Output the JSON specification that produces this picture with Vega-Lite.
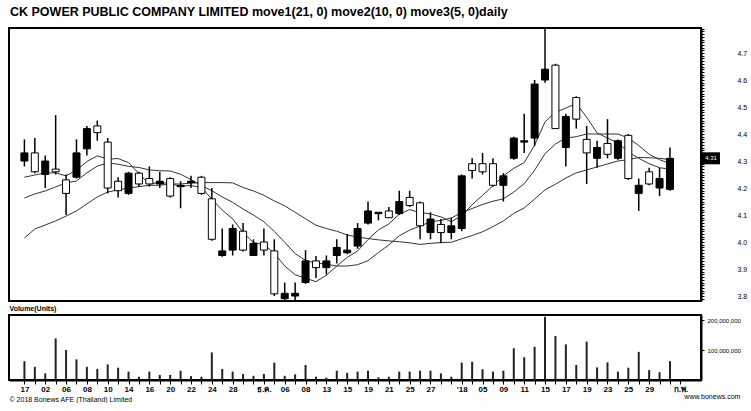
{
 "$schema": "https://vega.github.io/schema/vega-lite/v6.json",
 "background": "white",
 "padding": {"left": 8, "top": 6, "right": 0, "bottom": 0},
 "title": {"text": "CK POWER PUBLIC COMPANY LIMITED move1(21, 0) move2(10, 0) move3(5, 0)daily", "anchor": "start", "font": "Liberation Sans", "fontSize": 12.5, "fontWeight": "bold", "color": "black", "offset": 5, "dx": 2},
 "data": {"values": [
  {"i":0,"o":4.30,"h":4.38,"l":4.28,"c":4.33,"v":63000000,"ma5":4.24,"ma10":4.163,"ma21":4.015},
  {"i":1,"o":4.33,"h":4.385,"l":4.255,"c":4.26,"v":44000000,"ma5":4.248,"ma10":4.178,"ma21":4.048},
  {"i":2,"o":4.25,"h":4.32,"l":4.20,"c":4.30,"v":22000000,"ma5":4.256,"ma10":4.189,"ma21":4.063},
  {"i":3,"o":4.27,"h":4.47,"l":4.25,"c":4.26,"v":139000000,"ma5":4.256,"ma10":4.204,"ma21":4.078},
  {"i":4,"o":4.23,"h":4.25,"l":4.10,"c":4.18,"v":100000000,"ma5":4.245,"ma10":4.219,"ma21":4.096},
  {"i":5,"o":4.24,"h":4.38,"l":4.235,"c":4.33,"v":69000000,"ma5":4.266,"ma10":4.226,"ma21":4.115},
  {"i":6,"o":4.345,"h":4.43,"l":4.32,"c":4.42,"v":44000000,"ma5":4.298,"ma10":4.256,"ma21":4.141},
  {"i":7,"o":4.43,"h":4.45,"l":4.375,"c":4.405,"v":37000000,"ma5":4.319,"ma10":4.281,"ma21":4.167},
  {"i":8,"o":4.37,"h":4.385,"l":4.18,"c":4.20,"v":52000000,"ma5":4.307,"ma10":4.293,"ma21":4.185},
  {"i":9,"o":4.225,"h":4.24,"l":4.165,"c":4.19,"v":41000000,"ma5":4.309,"ma10":4.288,"ma21":4.193},
  {"i":10,"o":4.18,"h":4.26,"l":4.175,"c":4.255,"v":28000000,"ma5":4.294,"ma10":4.28,"ma21":4.20},
  {"i":11,"o":4.255,"h":4.26,"l":4.205,"c":4.215,"v":11000000,"ma5":4.253,"ma10":4.276,"ma21":4.205},
  {"i":12,"o":4.235,"h":4.28,"l":4.205,"c":4.215,"v":28000000,"ma5":4.215,"ma10":4.267,"ma21":4.21},
  {"i":13,"o":4.215,"h":4.26,"l":4.20,"c":4.225,"v":17000000,"ma5":4.22,"ma10":4.264,"ma21":4.21},
  {"i":14,"o":4.235,"h":4.24,"l":4.165,"c":4.17,"v":17000000,"ma5":4.216,"ma10":4.263,"ma21":4.215},
  {"i":15,"o":4.205,"h":4.225,"l":4.125,"c":4.21,"v":31000000,"ma5":4.207,"ma10":4.251,"ma21":4.215},
  {"i":16,"o":4.22,"h":4.245,"l":4.20,"c":4.225,"v":13000000,"ma5":4.209,"ma10":4.231,"ma21":4.218},
  {"i":17,"o":4.24,"h":4.245,"l":4.175,"c":4.18,"v":11000000,"ma5":4.202,"ma10":4.209,"ma21":4.22},
  {"i":18,"o":4.16,"h":4.20,"l":4.005,"c":4.01,"v":92000000,"ma5":4.159,"ma10":4.19,"ma21":4.22},
  {"i":19,"o":3.95,"h":4.05,"l":3.945,"c":3.967,"v":37000000,"ma5":4.118,"ma10":4.167,"ma21":4.22},
  {"i":20,"o":3.97,"h":4.065,"l":3.95,"c":4.05,"v":28000000,"ma5":4.086,"ma10":4.147,"ma21":4.219},
  {"i":21,"o":4.04,"h":4.07,"l":3.965,"c":3.97,"v":20000000,"ma5":4.035,"ma10":4.122,"ma21":4.202},
  {"i":22,"o":3.95,"h":4.01,"l":3.948,"c":3.995,"v":14000000,"ma5":3.998,"ma10":4.10,"ma21":4.189},
  {"i":23,"o":4.0,"h":4.05,"l":3.95,"c":3.97,"v":20000000,"ma5":3.99,"ma10":4.075,"ma21":4.173},
  {"i":24,"o":3.967,"h":4.01,"l":3.80,"c":3.808,"v":58000000,"ma5":3.959,"ma10":4.039,"ma21":4.152},
  {"i":25,"o":3.79,"h":3.85,"l":3.785,"c":3.81,"v":14000000,"ma5":3.911,"ma10":3.999,"ma21":4.134},
  {"i":26,"o":3.80,"h":3.85,"l":3.785,"c":3.81,"v":19000000,"ma5":3.879,"ma10":3.957,"ma21":4.11},
  {"i":27,"o":3.85,"h":3.97,"l":3.845,"c":3.93,"v":50000000,"ma5":3.866,"ma10":3.932,"ma21":4.086},
  {"i":28,"o":3.93,"h":3.948,"l":3.867,"c":3.905,"v":11000000,"ma5":3.853,"ma10":3.922,"ma21":4.062},
  {"i":29,"o":3.905,"h":3.95,"l":3.88,"c":3.93,"v":8000000,"ma5":3.877,"ma10":3.918,"ma21":4.05},
  {"i":30,"o":3.95,"h":4.01,"l":3.92,"c":3.98,"v":31000000,"ma5":3.911,"ma10":3.911,"ma21":4.04},
  {"i":31,"o":3.96,"h":4.03,"l":3.955,"c":3.97,"v":24000000,"ma5":3.943,"ma10":3.911,"ma21":4.026},
  {"i":32,"o":3.985,"h":4.07,"l":3.975,"c":4.05,"v":28000000,"ma5":3.967,"ma10":3.916,"ma21":4.018},
  {"i":33,"o":4.07,"h":4.15,"l":4.065,"c":4.115,"v":31000000,"ma5":4.009,"ma10":3.931,"ma21":4.013},
  {"i":34,"o":4.105,"h":4.11,"l":4.08,"c":4.11,"v":9000000,"ma5":4.045,"ma10":3.961,"ma21":4.008},
  {"i":35,"o":4.115,"h":4.13,"l":4.09,"c":4.09,"v":11000000,"ma5":4.067,"ma10":3.989,"ma21":4.004},
  {"i":36,"o":4.105,"h":4.19,"l":4.10,"c":4.15,"v":28000000,"ma5":4.103,"ma10":4.023,"ma21":4.001},
  {"i":37,"o":4.165,"h":4.19,"l":4.13,"c":4.135,"v":28000000,"ma5":4.12,"ma10":4.044,"ma21":3.997},
  {"i":38,"o":4.145,"h":4.15,"l":4.01,"c":4.06,"v":31000000,"ma5":4.109,"ma10":4.059,"ma21":3.991},
  {"i":39,"o":4.035,"h":4.11,"l":4.01,"c":4.085,"v":31000000,"ma5":4.104,"ma10":4.075,"ma21":3.995},
  {"i":40,"o":4.065,"h":4.085,"l":3.995,"c":4.035,"v":22000000,"ma5":4.093,"ma10":4.08,"ma21":3.998},
  {"i":41,"o":4.035,"h":4.09,"l":4.01,"c":4.06,"v":11000000,"ma5":4.075,"ma10":4.089,"ma21":3.999},
  {"i":42,"o":4.05,"h":4.25,"l":4.04,"c":4.245,"v":58000000,"ma5":4.097,"ma10":4.109,"ma21":4.012},
  {"i":43,"o":4.29,"h":4.31,"l":4.235,"c":4.265,"v":61000000,"ma5":4.138,"ma10":4.124,"ma21":4.024},
  {"i":44,"o":4.29,"h":4.33,"l":4.25,"c":4.26,"v":36000000,"ma5":4.173,"ma10":4.139,"ma21":4.038},
  {"i":45,"o":4.29,"h":4.31,"l":4.205,"c":4.21,"v":28000000,"ma5":4.208,"ma10":4.151,"ma21":4.057},
  {"i":46,"o":4.21,"h":4.255,"l":4.15,"c":4.245,"v":31000000,"ma5":4.245,"ma10":4.16,"ma21":4.078},
  {"i":47,"o":4.31,"h":4.39,"l":4.305,"c":4.385,"v":106000000,"ma5":4.273,"ma10":4.185,"ma21":4.106},
  {"i":48,"o":4.37,"h":4.475,"l":4.33,"c":4.375,"v":76000000,"ma5":4.294,"ma10":4.216,"ma21":4.126},
  {"i":49,"o":4.385,"h":4.60,"l":4.355,"c":4.585,"v":111000000,"ma5":4.359,"ma10":4.266,"ma21":4.159},
  {"i":50,"o":4.60,"h":4.80,"l":4.59,"c":4.64,"v":211000000,"ma5":4.445,"ma10":4.327,"ma21":4.193},
  {"i":51,"o":4.655,"h":4.66,"l":4.42,"c":4.42,"v":147000000,"ma5":4.48,"ma10":4.363,"ma21":4.214},
  {"i":52,"o":4.35,"h":4.475,"l":4.28,"c":4.465,"v":119000000,"ma5":4.496,"ma10":4.385,"ma21":4.237},
  {"i":53,"o":4.535,"h":4.54,"l":4.42,"c":4.455,"v":50000000,"ma5":4.513,"ma10":4.39,"ma21":4.256},
  {"i":54,"o":4.38,"h":4.43,"l":4.215,"c":4.33,"v":128000000,"ma5":4.462,"ma10":4.40,"ma21":4.267},
  {"i":55,"o":4.31,"h":4.375,"l":4.275,"c":4.35,"v":42000000,"ma5":4.404,"ma10":4.40,"ma21":4.278},
  {"i":56,"o":4.365,"h":4.455,"l":4.31,"c":4.325,"v":59000000,"ma5":4.385,"ma10":4.40,"ma21":4.289},
  {"i":57,"o":4.31,"h":4.38,"l":4.305,"c":4.375,"v":28000000,"ma5":4.367,"ma10":4.40,"ma21":4.30},
  {"i":58,"o":4.395,"h":4.40,"l":4.23,"c":4.235,"v":41000000,"ma5":4.333,"ma10":4.385,"ma21":4.305},
  {"i":59,"o":4.18,"h":4.235,"l":4.115,"c":4.21,"v":94000000,"ma5":4.31,"ma10":4.357,"ma21":4.313},
  {"i":60,"o":4.26,"h":4.275,"l":4.21,"c":4.215,"v":33000000,"ma5":4.29,"ma10":4.325,"ma21":4.312},
  {"i":61,"o":4.20,"h":4.275,"l":4.17,"c":4.235,"v":26000000,"ma5":4.275,"ma10":4.305,"ma21":4.31},
  {"i":62,"o":4.195,"h":4.35,"l":4.19,"c":4.31,"v":63000000,"ma5":4.27,"ma10":4.29,"ma21":4.305}
 ]},
 "spacing": 2,
 "vconcat": [
  {
   "width": 692,
   "height": 273,
   "encoding": {
    "x": {"field": "i", "type": "quantitative", "scale": {"domain": [-1, 64.5], "nice": false, "zero": false},
          "axis": {"orient": "bottom", "labels": false, "ticks": false, "domain": false, "title": "Volume(Units)", "titleAnchor": "start", "titleFontSize": 7, "titleFontWeight": "bold", "titlePadding": 3}}
   },
   "layer": [
    {"mark": {"type": "line", "color": "#333", "strokeWidth": 1, "clip": true},
     "encoding": {"y": {"field": "ma21", "type": "quantitative", "title": null, "scale": {"domain": [3.7815, 4.7926], "nice": false, "zero": false},
       "axis": {"orient": "right", "tickCount": 100, "labelExpr": "round(datum.value*100) % 10 == 0 ? format(datum.value, '.1f') : ''", "labelOverlap": false, "labelFlush": false, "tickSize": 3, "labelPadding": 33, "labelFontSize": 7, "title": null, "domainWidth": 2}}}},
    {"mark": {"type": "line", "color": "#333", "strokeWidth": 1, "clip": true},
     "encoding": {"y": {"field": "ma10", "type": "quantitative", "title": null}}},
    {"mark": {"type": "line", "color": "#333", "strokeWidth": 1, "clip": true},
     "encoding": {"y": {"field": "ma5", "type": "quantitative", "title": null}}},
    {"mark": {"type": "rule", "color": "black", "strokeWidth": 1.5, "clip": true},
     "encoding": {"y": {"field": "l", "type": "quantitative", "title": null}, "y2": {"field": "h"}}},
    {"mark": {"type": "bar", "size": 7, "stroke": "black", "strokeWidth": 1, "clip": true},
     "encoding": {"y": {"field": "o", "type": "quantitative", "title": null},
      "y2": {"field": "c"},
      "fill": {"condition": {"test": "datum.c > datum.o", "value": "black"}, "value": "white"}}},
    {"transform": [{"filter": "datum.i == 62"}],
     "mark": {"type": "point", "shape": "M-1.5,-1H1.5V1H-1.5Z", "size": 144, "filled": true, "color": "black", "opacity": 1, "xOffset": 41},
     "encoding": {"y": {"field": "c", "type": "quantitative", "title": null}}},
    {"transform": [{"filter": "datum.i == 62"}],
     "mark": {"type": "text", "color": "white", "fontSize": 6, "xOffset": 41, "font": "Liberation Sans"},
     "encoding": {"y": {"field": "c", "type": "quantitative", "title": null}, "text": {"field": "c", "format": ".2f"}}}
   ]
  },
  {
   "width": 692,
   "height": 65,
   "title": {"text": "www.bonews.com", "orient": "bottom", "anchor": "end", "fontSize": 7, "fontWeight": "normal", "font": "Liberation Sans", "offset": -9, "color": "black"},
   "mark": {"type": "bar", "size": 2, "color": "#222"},
   "encoding": {
    "x": {"field": "i", "type": "quantitative", "scale": {"domain": [-1, 64.5], "nice": false, "zero": false},
     "axis": {"values": [0,1,2,3,4,5,6,7,8,9,10,11,12,13,14,15,16,17,18,19,20,21,22,23,24,25,26,27,28,29,30,31,32,33,34,35,36,37,38,39,40,41,42,43,44,45,46,47,48,49,50,51,52,53,54,55,56,57,58,59,60,61,62,63],
      "labelExpr": "[\"17\",\"\",\"02\",\"\",\"06\",\"\",\"08\",\"\",\"10\",\"\",\"14\",\"\",\"16\",\"\",\"20\",\"\",\"22\",\"\",\"24\",\"\",\"28\",\"\",\"\",\"ธ.ค.\",\"\",\"06\",\"\",\"08\",\"\",\"13\",\"\",\"15\",\"\",\"19\",\"\",\"21\",\"\",\"25\",\"\",\"27\",\"\",\"\",\"'18\",\"\",\"05\",\"\",\"09\",\"\",\"11\",\"\",\"15\",\"\",\"17\",\"\",\"19\",\"\",\"23\",\"\",\"25\",\"\",\"29\",\"\",\"\",\"ก.พ.\"][datum.value]",
      "tickSize": 4, "labelFontSize": 8, "labelFontWeight": "bold", "labelPadding": 1, "labelOverlap": false, "labelFlush": false, "labelBound": false,
      "title": "© 2018 Bonews AFE (Thailand) Limited", "titleAnchor": "start", "titleFontSize": 7, "titleFontWeight": "normal", "titlePadding": 2, "domainWidth": 2}},
    "y": {"field": "v", "type": "quantitative", "scale": {"domain": [0, 217000000], "nice": false},
     "axis": {"orient": "right", "values": [100000000, 200000000], "format": ",d", "labelFontSize": 6, "tickSize": 3, "labelPadding": 3, "title": null, "domainWidth": 2}}
   }
  }
 ],
 "config": {
  "view": {"stroke": "black", "strokeWidth": 2},
  "axis": {"labelFont": "Liberation Sans", "titleFont": "Liberation Sans", "grid": false, "domainColor": "black", "tickColor": "black", "labelColor": "black", "titleColor": "black"}
 }
}
